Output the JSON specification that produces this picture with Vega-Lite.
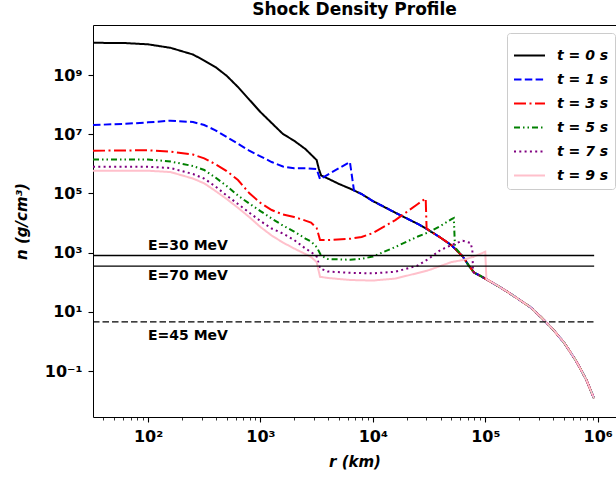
{
  "$schema": "https://vega.github.io/schema/vega-lite/v6.json",
  "width": 523,
  "height": 392,
  "autosize": {"type": "none"},
  "padding": {"left": 93, "top": 25, "right": 0, "bottom": 61},
  "background": "white",
  "title": {"text": "Shock Density Profile", "font": "DejaVu Sans", "fontSize": 17, "fontWeight": "bold", "color": "black", "offset": 6},
  "config": {
    "view": {"stroke": null},
    "axis": {"domainColor": "black", "domainWidth": 1, "tickColor": "black", "labelColor": "black", "titleColor": "black", "grid": false, "labelFont": "DejaVu Sans", "titleFont": "DejaVu Sans"},
    "legend": {"symbolType": "stroke", "symbolSize": 961, "symbolStrokeWidth": 2, "labelFont": "DejaVu Sans", "labelFontSize": 14, "labelFontWeight": "bold", "labelFontStyle": "italic", "labelColor": "black", "labelOffset": 11, "rowPadding": -1.2, "padding": 6, "strokeColor": "#cccccc", "cornerRadius": 3, "fillColor": "white"}
  },
  "datasets": {
    "curves": [
      {"t": "t = 0 s", "r": 32.4, "n": 1.23e10}, {"t": "t = 0 s", "r": 63.1, "n": 1.20e10}, {"t": "t = 0 s", "r": 100, "n": 1.09e10}, {"t": "t = 0 s", "r": 158.5, "n": 8.30e9}, {"t": "t = 0 s", "r": 251.2, "n": 4.93e9}, {"t": "t = 0 s", "r": 316.2, "n": 3.09e9}, {"t": "t = 0 s", "r": 398.1, "n": 1.86e9}, {"t": "t = 0 s", "r": 501.2, "n": 9.40e8}, {"t": "t = 0 s", "r": 631, "n": 3.94e8}, {"t": "t = 0 s", "r": 794.3, "n": 1.49e8}, {"t": "t = 0 s", "r": 1000, "n": 5.62e7}, {"t": "t = 0 s", "r": 1259, "n": 2.39e7}, {"t": "t = 0 s", "r": 1585, "n": 1.02e7}, {"t": "t = 0 s", "r": 1995, "n": 6.03e6}, {"t": "t = 0 s", "r": 2512, "n": 3.16e6}, {"t": "t = 0 s", "r": 3162, "n": 1.34e6}, {"t": "t = 0 s", "r": 3311, "n": 6.67e5}, {"t": "t = 0 s", "r": 3467, "n": 4.03e5},
      {"t": "t = 0 s", "r": 3981, "n": 3.18e5}, {"t": "t = 0 s", "r": 5012, "n": 2.08e5}, {"t": "t = 0 s", "r": 6310, "n": 1.44e5}, {"t": "t = 0 s", "r": 7943, "n": 9.55e4}, {"t": "t = 0 s", "r": 10000, "n": 5.53e4}, {"t": "t = 0 s", "r": 15850, "n": 2.23e4}, {"t": "t = 0 s", "r": 25120, "n": 9.33e3}, {"t": "t = 0 s", "r": 31620, "n": 5.66e3}, {"t": "t = 0 s", "r": 39810, "n": 3.24e3}, {"t": "t = 0 s", "r": 50120, "n": 1.77e3}, {"t": "t = 0 s", "r": 63100, "n": 738}, {"t": "t = 0 s", "r": 70790, "n": 381}, {"t": "t = 0 s", "r": 79430, "n": 213}, {"t": "t = 0 s", "r": 100000, "n": 133}, {"t": "t = 0 s", "r": 125900, "n": 80.4}, {"t": "t = 0 s", "r": 158500, "n": 46.7}, {"t": "t = 0 s", "r": 199500, "n": 26.1}, {"t": "t = 0 s", "r": 251200, "n": 14.5}, {"t": "t = 0 s", "r": 316200, "n": 6.41}, {"t": "t = 0 s", "r": 398100, "n": 2.62}, {"t": "t = 0 s", "r": 501200, "n": 0.918}, {"t": "t = 0 s", "r": 631000, "n": 0.245}, {"t": "t = 0 s", "r": 707900, "n": 0.1125}, {"t": "t = 0 s", "r": 794300, "n": 0.0497}, {"t": "t = 0 s", "r": 871000, "n": 0.0211}, {"t": "t = 0 s", "r": 926800, "n": 0.012},

      {"t": "t = 1 s", "r": 32.4, "n": 2.05e7}, {"t": "t = 1 s", "r": 63.1, "n": 2.24e7}, {"t": "t = 1 s", "r": 100, "n": 2.52e7}, {"t": "t = 1 s", "r": 158.5, "n": 2.86e7}, {"t": "t = 1 s", "r": 251.2, "n": 2.58e7}, {"t": "t = 1 s", "r": 316.2, "n": 2.05e7}, {"t": "t = 1 s", "r": 398.1, "n": 1.36e7}, {"t": "t = 1 s", "r": 501.2, "n": 8.04e6}, {"t": "t = 1 s", "r": 631, "n": 4.77e6}, {"t": "t = 1 s", "r": 794.3, "n": 2.81e6}, {"t": "t = 1 s", "r": 1000, "n": 1.79e6}, {"t": "t = 1 s", "r": 1259, "n": 1.15e6}, {"t": "t = 1 s", "r": 1585, "n": 8.11e5}, {"t": "t = 1 s", "r": 1995, "n": 7.05e5}, {"t": "t = 1 s", "r": 2512, "n": 7.05e5}, {"t": "t = 1 s", "r": 3162, "n": 6.67e5}, {"t": "t = 1 s", "r": 3388, "n": 3.06e5}, {"t": "t = 1 s", "r": 3981, "n": 4.35e5}, {"t": "t = 1 s", "r": 5012, "n": 7.16e5}, {"t": "t = 1 s", "r": 6252, "n": 1.15e6}, {"t": "t = 1 s", "r": 6790, "n": 1.27e5},
      {"t": "t = 1 s", "r": 7943, "n": 9.55e4}, {"t": "t = 1 s", "r": 10000, "n": 5.53e4}, {"t": "t = 1 s", "r": 15850, "n": 2.23e4}, {"t": "t = 1 s", "r": 25120, "n": 9.33e3}, {"t": "t = 1 s", "r": 31620, "n": 5.66e3}, {"t": "t = 1 s", "r": 39810, "n": 3.24e3}, {"t": "t = 1 s", "r": 50120, "n": 1.77e3}, {"t": "t = 1 s", "r": 63100, "n": 738}, {"t": "t = 1 s", "r": 70790, "n": 381}, {"t": "t = 1 s", "r": 79430, "n": 213}, {"t": "t = 1 s", "r": 100000, "n": 133}, {"t": "t = 1 s", "r": 125900, "n": 80.4}, {"t": "t = 1 s", "r": 158500, "n": 46.7}, {"t": "t = 1 s", "r": 199500, "n": 26.1}, {"t": "t = 1 s", "r": 251200, "n": 14.5}, {"t": "t = 1 s", "r": 316200, "n": 6.41}, {"t": "t = 1 s", "r": 398100, "n": 2.62}, {"t": "t = 1 s", "r": 501200, "n": 0.918}, {"t": "t = 1 s", "r": 631000, "n": 0.245}, {"t": "t = 1 s", "r": 707900, "n": 0.1125}, {"t": "t = 1 s", "r": 794300, "n": 0.0497}, {"t": "t = 1 s", "r": 871000, "n": 0.0211}, {"t": "t = 1 s", "r": 926800, "n": 0.012},

      {"t": "t = 3 s", "r": 32.4, "n": 2.77e6}, {"t": "t = 3 s", "r": 100, "n": 2.88e6}, {"t": "t = 3 s", "r": 158.5, "n": 2.58e6}, {"t": "t = 3 s", "r": 251.2, "n": 2.06e6}, {"t": "t = 3 s", "r": 316.2, "n": 1.53e6}, {"t": "t = 3 s", "r": 398.1, "n": 9.69e5}, {"t": "t = 3 s", "r": 501.2, "n": 5.71e5}, {"t": "t = 3 s", "r": 631, "n": 2.84e5}, {"t": "t = 3 s", "r": 794.3, "n": 1.03e5}, {"t": "t = 3 s", "r": 1000, "n": 4.81e4}, {"t": "t = 3 s", "r": 1259, "n": 2.75e4}, {"t": "t = 3 s", "r": 1585, "n": 1.94e4}, {"t": "t = 3 s", "r": 1995, "n": 1.60e4}, {"t": "t = 3 s", "r": 2512, "n": 1.21e4}, {"t": "t = 3 s", "r": 2818, "n": 1.04e4}, {"t": "t = 3 s", "r": 3162, "n": 6.78e3}, {"t": "t = 3 s", "r": 3388, "n": 2.67e3}, {"t": "t = 3 s", "r": 3981, "n": 2.67e3}, {"t": "t = 3 s", "r": 6310, "n": 2.95e3}, {"t": "t = 3 s", "r": 7943, "n": 3.37e3}, {"t": "t = 3 s", "r": 10000, "n": 4.59e3}, {"t": "t = 3 s", "r": 15850, "n": 1.26e4}, {"t": "t = 3 s", "r": 25120, "n": 4.39e4}, {"t": "t = 3 s", "r": 29510, "n": 6.82e4}, {"t": "t = 3 s", "r": 30060, "n": 6.6e3},
      {"t": "t = 3 s", "r": 31620, "n": 5.66e3}, {"t": "t = 3 s", "r": 39810, "n": 3.24e3}, {"t": "t = 3 s", "r": 50120, "n": 1.77e3}, {"t": "t = 3 s", "r": 63100, "n": 738}, {"t": "t = 3 s", "r": 70790, "n": 381}, {"t": "t = 3 s", "r": 79430, "n": 213}, {"t": "t = 3 s", "r": 100000, "n": 133}, {"t": "t = 3 s", "r": 125900, "n": 80.4}, {"t": "t = 3 s", "r": 158500, "n": 46.7}, {"t": "t = 3 s", "r": 199500, "n": 26.1}, {"t": "t = 3 s", "r": 251200, "n": 14.5}, {"t": "t = 3 s", "r": 316200, "n": 6.41}, {"t": "t = 3 s", "r": 398100, "n": 2.62}, {"t": "t = 3 s", "r": 501200, "n": 0.918}, {"t": "t = 3 s", "r": 631000, "n": 0.245}, {"t": "t = 3 s", "r": 707900, "n": 0.1125}, {"t": "t = 3 s", "r": 794300, "n": 0.0497}, {"t": "t = 3 s", "r": 871000, "n": 0.0211}, {"t": "t = 3 s", "r": 926800, "n": 0.012},

      {"t": "t = 5 s", "r": 32.4, "n": 1.40e6}, {"t": "t = 5 s", "r": 100, "n": 1.40e6}, {"t": "t = 5 s", "r": 158.5, "n": 1.20e6}, {"t": "t = 5 s", "r": 251.2, "n": 8.43e5}, {"t": "t = 5 s", "r": 316.2, "n": 6.18e5}, {"t": "t = 5 s", "r": 398.1, "n": 3.44e5}, {"t": "t = 5 s", "r": 501.2, "n": 1.78e5}, {"t": "t = 5 s", "r": 631, "n": 8.49e4}, {"t": "t = 5 s", "r": 794.3, "n": 4.56e4}, {"t": "t = 5 s", "r": 1000, "n": 2.54e4}, {"t": "t = 5 s", "r": 1259, "n": 1.42e4}, {"t": "t = 5 s", "r": 1585, "n": 8.24e3}, {"t": "t = 5 s", "r": 1995, "n": 5.16e3}, {"t": "t = 5 s", "r": 2512, "n": 2.99e3}, {"t": "t = 5 s", "r": 2818, "n": 2.37e3}, {"t": "t = 5 s", "r": 3162, "n": 1.55e3}, {"t": "t = 5 s", "r": 3467, "n": 798}, {"t": "t = 5 s", "r": 3981, "n": 608}, {"t": "t = 5 s", "r": 6310, "n": 575}, {"t": "t = 5 s", "r": 7943, "n": 618}, {"t": "t = 5 s", "r": 10000, "n": 738}, {"t": "t = 5 s", "r": 15850, "n": 1.55e3}, {"t": "t = 5 s", "r": 25120, "n": 3.50e3}, {"t": "t = 5 s", "r": 31620, "n": 4.97e3}, {"t": "t = 5 s", "r": 39810, "n": 7.92e3}, {"t": "t = 5 s", "r": 50120, "n": 1.36e4}, {"t": "t = 5 s", "r": 52480, "n": 1.48e4}, {"t": "t = 5 s", "r": 53800, "n": 1.5e3},
      {"t": "t = 5 s", "r": 63100, "n": 738}, {"t": "t = 5 s", "r": 70790, "n": 381}, {"t": "t = 5 s", "r": 79430, "n": 213}, {"t": "t = 5 s", "r": 100000, "n": 133}, {"t": "t = 5 s", "r": 125900, "n": 80.4}, {"t": "t = 5 s", "r": 158500, "n": 46.7}, {"t": "t = 5 s", "r": 199500, "n": 26.1}, {"t": "t = 5 s", "r": 251200, "n": 14.5}, {"t": "t = 5 s", "r": 316200, "n": 6.41}, {"t": "t = 5 s", "r": 398100, "n": 2.62}, {"t": "t = 5 s", "r": 501200, "n": 0.918}, {"t": "t = 5 s", "r": 631000, "n": 0.245}, {"t": "t = 5 s", "r": 707900, "n": 0.1125}, {"t": "t = 5 s", "r": 794300, "n": 0.0497}, {"t": "t = 5 s", "r": 871000, "n": 0.0211}, {"t": "t = 5 s", "r": 926800, "n": 0.012},

      {"t": "t = 7 s", "r": 32.4, "n": 7.98e5}, {"t": "t = 7 s", "r": 100, "n": 7.98e5}, {"t": "t = 7 s", "r": 158.5, "n": 7.21e5}, {"t": "t = 7 s", "r": 251.2, "n": 4.52e5}, {"t": "t = 7 s", "r": 316.2, "n": 3.18e5}, {"t": "t = 7 s", "r": 398.1, "n": 1.71e5}, {"t": "t = 7 s", "r": 501.2, "n": 8.49e4}, {"t": "t = 7 s", "r": 631, "n": 4.39e4}, {"t": "t = 7 s", "r": 794.3, "n": 2.26e4}, {"t": "t = 7 s", "r": 1000, "n": 1.17e4}, {"t": "t = 7 s", "r": 1259, "n": 6.52e3}, {"t": "t = 7 s", "r": 1585, "n": 4.42e3}, {"t": "t = 7 s", "r": 1995, "n": 2.67e3}, {"t": "t = 7 s", "r": 2512, "n": 1.38e3}, {"t": "t = 7 s", "r": 2818, "n": 1.05e3}, {"t": "t = 7 s", "r": 3162, "n": 738}, {"t": "t = 7 s", "r": 3388, "n": 295}, {"t": "t = 7 s", "r": 3981, "n": 230}, {"t": "t = 7 s", "r": 6310, "n": 208}, {"t": "t = 7 s", "r": 10000, "n": 200}, {"t": "t = 7 s", "r": 15850, "n": 226}, {"t": "t = 7 s", "r": 25120, "n": 366}, {"t": "t = 7 s", "r": 31620, "n": 632}, {"t": "t = 7 s", "r": 39810, "n": 1.22e3}, {"t": "t = 7 s", "r": 50120, "n": 1.81e3}, {"t": "t = 7 s", "r": 63100, "n": 2.52e3}, {"t": "t = 7 s", "r": 74130, "n": 2.11e3}, {"t": "t = 7 s", "r": 76740, "n": 1.22e3}, {"t": "t = 7 s", "r": 77800, "n": 240},
      {"t": "t = 7 s", "r": 79430, "n": 213}, {"t": "t = 7 s", "r": 100000, "n": 133}, {"t": "t = 7 s", "r": 125900, "n": 80.4}, {"t": "t = 7 s", "r": 158500, "n": 46.7}, {"t": "t = 7 s", "r": 199500, "n": 26.1}, {"t": "t = 7 s", "r": 251200, "n": 14.5}, {"t": "t = 7 s", "r": 316200, "n": 6.41}, {"t": "t = 7 s", "r": 398100, "n": 2.62}, {"t": "t = 7 s", "r": 501200, "n": 0.918}, {"t": "t = 7 s", "r": 631000, "n": 0.245}, {"t": "t = 7 s", "r": 707900, "n": 0.1125}, {"t": "t = 7 s", "r": 794300, "n": 0.0497}, {"t": "t = 7 s", "r": 871000, "n": 0.0211}, {"t": "t = 7 s", "r": 926800, "n": 0.012},

      {"t": "t = 9 s", "r": 32.4, "n": 5.85e5}, {"t": "t = 9 s", "r": 100, "n": 5.85e5}, {"t": "t = 9 s", "r": 158.5, "n": 5.28e5}, {"t": "t = 9 s", "r": 251.2, "n": 3.18e5}, {"t": "t = 9 s", "r": 316.2, "n": 2.19e5}, {"t": "t = 9 s", "r": 398.1, "n": 1.21e5}, {"t": "t = 9 s", "r": 501.2, "n": 6.47e4}, {"t": "t = 9 s", "r": 631, "n": 3.27e4}, {"t": "t = 9 s", "r": 794.3, "n": 1.60e4}, {"t": "t = 9 s", "r": 1000, "n": 7.33e3}, {"t": "t = 9 s", "r": 1259, "n": 3.78e3}, {"t": "t = 9 s", "r": 1585, "n": 2.19e3}, {"t": "t = 9 s", "r": 1995, "n": 1.38e3}, {"t": "t = 9 s", "r": 2512, "n": 898}, {"t": "t = 9 s", "r": 2818, "n": 710}, {"t": "t = 9 s", "r": 3162, "n": 481}, {"t": "t = 9 s", "r": 3388, "n": 153}, {"t": "t = 9 s", "r": 3981, "n": 139}, {"t": "t = 9 s", "r": 6310, "n": 119}, {"t": "t = 9 s", "r": 10000, "n": 114}, {"t": "t = 9 s", "r": 15850, "n": 133}, {"t": "t = 9 s", "r": 25120, "n": 205}, {"t": "t = 9 s", "r": 31620, "n": 258}, {"t": "t = 9 s", "r": 39810, "n": 352}, {"t": "t = 9 s", "r": 50120, "n": 481}, {"t": "t = 9 s", "r": 63100, "n": 562}, {"t": "t = 9 s", "r": 79430, "n": 738}, {"t": "t = 9 s", "r": 100000, "n": 1070}, {"t": "t = 9 s", "r": 102300, "n": 128},
      {"t": "t = 9 s", "r": 125900, "n": 80.4}, {"t": "t = 9 s", "r": 158500, "n": 46.7}, {"t": "t = 9 s", "r": 199500, "n": 26.1}, {"t": "t = 9 s", "r": 251200, "n": 14.5}, {"t": "t = 9 s", "r": 316200, "n": 6.41}, {"t": "t = 9 s", "r": 398100, "n": 2.62}, {"t": "t = 9 s", "r": 501200, "n": 0.918}, {"t": "t = 9 s", "r": 631000, "n": 0.245}, {"t": "t = 9 s", "r": 707900, "n": 0.1125}, {"t": "t = 9 s", "r": 794300, "n": 0.0497}, {"t": "t = 9 s", "r": 871000, "n": 0.0211}, {"t": "t = 9 s", "r": 926800, "n": 0.012}
    ],
    "hlines": [
      {"E": "E=30 MeV", "r1": 32.4, "r2": 930000, "n": 800},
      {"E": "E=70 MeV", "r1": 32.4, "r2": 930000, "n": 352},
      {"E": "E=45 MeV", "r1": 32.4, "r2": 930000, "n": 4.6}
    ],
    "labels": [
      {"label": "E=30 MeV", "r": 100, "n": 1700},
      {"label": "E=70 MeV", "r": 100, "n": 160},
      {"label": "E=45 MeV", "r": 100, "n": 1.5}
    ]
  },
  "layer": [
    {
      "data": {"name": "curves"},
      "mark": {"type": "line", "clip": true},
      "encoding": {
        "x": {
          "field": "r", "type": "quantitative",
          "scale": {"type": "log", "domain": [32.4, 1455000], "nice": false},
          "axis": {
            "title": "r (km)", "titleFontSize": 15, "titleFontWeight": "bold", "titleFontStyle": "italic", "titlePadding": 10,
            "values": [40, 50, 60, 70, 80, 90, 100, 200, 300, 400, 500, 600, 700, 800, 900, 1000, 2000, 3000, 4000, 5000, 6000, 7000, 8000, 9000, 10000, 20000, 30000, 40000, 50000, 60000, 70000, 80000, 90000, 100000, 200000, 300000, 400000, 500000, 600000, 700000, 800000, 900000, 1000000],
            "labelExpr": "abs(log(datum.value)/LN10 - round(log(datum.value)/LN10)) < 0.001 ? ['10⁰','10¹','10²','10³','10⁴','10⁵','10⁶','10⁷'][round(log(datum.value)/LN10)] : ''",
            "tickSize": {"condition": {"test": "abs(log(datum.value)/LN10 - round(log(datum.value)/LN10)) < 0.001", "value": 5}, "value": 3},
            "tickWidth": {"condition": {"test": "abs(log(datum.value)/LN10 - round(log(datum.value)/LN10)) < 0.001", "value": 1.1}, "value": 0.8},
            "labelFontSize": 16, "labelFontWeight": "bold", "labelPadding": 6, "labelOverlap": false, "labelFlush": false
          }
        },
        "y": {
          "field": "n", "type": "quantitative",
          "scale": {"type": "log", "domain": [0.0028, 4.9e10], "nice": false},
          "axis": {
            "title": "n (g/cm³)", "titleFontSize": 15, "titleFontWeight": "bold", "titleFontStyle": "italic", "titlePadding": 15,
            "values": [0.1, 10, 1000, 100000, 10000000, 1000000000],
            "labelExpr": "['10⁻¹','10⁰','10¹','10²','10³','10⁴','10⁵','10⁶','10⁷','10⁸','10⁹'][round(log(datum.value)/LN10)+1]",
            "tickSize": 5, "tickWidth": 1.1, "labelFontSize": 16, "labelFontWeight": "bold", "labelPadding": 6
          }
        },
        "color": {
          "field": "t", "type": "nominal",
          "scale": {"domain": ["t = 0 s", "t = 1 s", "t = 3 s", "t = 5 s", "t = 7 s", "t = 9 s"], "range": ["#000000", "#0000ff", "#ff0000", "#008000", "#800080", "#ffc0cb"]},
          "legend": {"title": null, "orient": "none", "legendX": 414, "legendY": 8}
        },
        "strokeDash": {
          "field": "t", "type": "nominal",
          "scale": {"domain": ["t = 0 s", "t = 1 s", "t = 3 s", "t = 5 s", "t = 7 s", "t = 9 s"], "range": [[1, 0], [7.5, 3.3], [12, 3.5, 2, 3.5], [6, 3, 1.5, 3, 1.5, 3], [2, 3.3], [1, 0]]},
          "legend": {"title": null, "orient": "none", "legendX": 414, "legendY": 8}
        },
        "strokeWidth": {
          "field": "t", "type": "nominal",
          "scale": {"domain": ["t = 0 s", "t = 1 s", "t = 3 s", "t = 5 s", "t = 7 s", "t = 9 s"], "range": [2, 2, 2, 2, 2.2, 2.6]},
          "legend": null
        }
      }
    },
    {
      "data": {"name": "hlines"},
      "transform": [{"filter": "datum.E != 'E=45 MeV'"}],
      "mark": {"type": "rule", "color": "black", "strokeWidth": 1.3},
      "encoding": {
        "x": {"field": "r1", "type": "quantitative", "scale": {"type": "log", "domain": [32.4, 1455000], "nice": false}, "axis": {"orient": "top", "labels": false, "ticks": false, "title": null, "domain": true}},
        "x2": {"field": "r2"},
        "y": {"field": "n", "type": "quantitative", "scale": {"type": "log", "domain": [0.0028, 4.9e10], "nice": false}, "title": "n (g/cm³)"}
      }
    },
    {
      "data": {"name": "hlines"},
      "transform": [{"filter": "datum.E == 'E=45 MeV'"}],
      "mark": {"type": "rule", "color": "black", "strokeWidth": 1.3, "strokeDash": [6.5, 3]},
      "encoding": {
        "x": {"field": "r1", "type": "quantitative", "scale": {"type": "log", "domain": [32.4, 1455000], "nice": false}, "axis": null},
        "x2": {"field": "r2"},
        "y": {"field": "n", "type": "quantitative", "scale": {"type": "log", "domain": [0.0028, 4.9e10], "nice": false}, "title": "n (g/cm³)"}
      }
    },
    {
      "data": {"name": "labels"},
      "mark": {"type": "text", "align": "left", "baseline": "middle", "font": "DejaVu Sans", "fontSize": 14, "fontWeight": "bold", "color": "black"},
      "encoding": {
        "x": {"field": "r", "type": "quantitative", "scale": {"type": "log", "domain": [32.4, 1455000], "nice": false}, "axis": null},
        "y": {"field": "n", "type": "quantitative", "scale": {"type": "log", "domain": [0.0028, 4.9e10], "nice": false}, "title": "n (g/cm³)"},
        "text": {"field": "label"}
      }
    }
  ],
  "resolve": {"axis": {"x": "independent"}}
}
